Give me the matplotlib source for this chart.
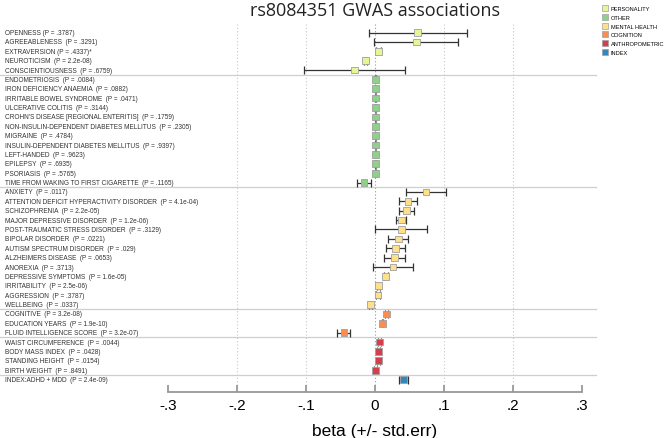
import numpy as np
import matplotlib.pyplot as plt
from matplotlib.lines import Line2D

W, H = 669, 439

labels = [
    "OPENNESS (P = .3787)",
    "AGREEABLENESS  (P = .3291)",
    "EXTRAVERSION (P = .4337)*",
    "NEUROTICISM  (P = 2.2e-08)",
    "CONSCIENTIOUSNESS  (P = .6759)",
    "ENDOMETRIOSIS  (P = .0084)",
    "IRON DEFICIENCY ANAEMIA  (P = .0882)",
    "IRRITABLE BOWEL SYNDROME  (P = .0471)",
    "ULCERATIVE COLITIS  (P = .3144)",
    "CROHN'S DISEASE [REGIONAL ENTERITIS]  (P = .1759)",
    "NON-INSULIN-DEPENDENT DIABETES MELLITUS  (P = .2305)",
    "MIGRAINE  (P = .4784)",
    "INSULIN-DEPENDENT DIABETES MELLITUS  (P = .9397)",
    "LEFT-HANDED  (P = .9623)",
    "EPILEPSY  (P = .6935)",
    "PSORIASIS  (P = .5765)",
    "TIME FROM WAKING TO FIRST CIGARETTE  (P = .1165)",
    "ANXIETY  (P = .0117)",
    "ATTENTION DEFICIT HYPERACTIVITY DISORDER  (P = 4.1e-04)",
    "SCHIZOPHRENIA  (P = 2.2e-05)",
    "MAJOR DEPRESSIVE DISORDER  (P = 1.2e-06)",
    "POST-TRAUMATIC STRESS DISORDER  (P = .3129)",
    "BIPOLAR DISORDER  (P = .0221)",
    "AUTISM SPECTRUM DISORDER  (P = .029)",
    "ALZHEIMERS DISEASE  (P = .0653)",
    "ANOREXIA  (P = .3713)",
    "DEPRESSIVE SYMPTOMS  (P = 1.6e-05)",
    "IRRITABILITY  (P = 2.5e-06)",
    "AGGRESSION  (P = .3787)",
    "WELLBEING  (P = .0337)",
    "COGNITIVE  (P = 3.2e-08)",
    "EDUCATION YEARS  (P = 1.9e-10)",
    "FLUID INTELLIGENCE SCORE  (P = 3.2e-07)",
    "WAIST CIRCUMFERENCE  (P = .0044)",
    "BODY MASS INDEX  (P = .0428)",
    "STANDING HEIGHT  (P = .0154)",
    "BIRTH WEIGHT  (P = .8491)",
    "INDEX:ADHD + MDD  (P = 2.4e-09)",
]

beta = [0.062, 0.060, 0.005, -0.0135, -0.030,
        0.001, 0.001, 0.001, 0.001, 0.001, 0.001, 0.001, 0.001, 0.001, 0.001, 0.001, -0.016,
        0.074, 0.048, 0.046, 0.038, 0.038, 0.034, 0.030, 0.0285, 0.026, 0.0155, 0.0054, 0.0043, -0.0063,
        0.0164, 0.011, -0.045,
        0.0063, 0.0054, 0.0048, 0.001,
        0.041]

se = [0.071, 0.061, 0.004, 0.002, 0.073,
      0.001, 0.001, 0.001, 0.001, 0.001, 0.001, 0.001, 0.001, 0.001, 0.001, 0.001, 0.0106,
      0.029, 0.0135, 0.011, 0.0075, 0.038, 0.0145, 0.014, 0.0155, 0.029, 0.003, 0.002, 0.003, 0.002,
      0.002, 0.001, 0.0094,
      0.002, 0.002, 0.002, 0.002,
      0.0068]

groups = ["PERSONALITY", "OTHER", "MENTAL HEALTH", "COGNITION", "ANTHROPOMETRIC", "INDEX"]
group_sizes = [5, 12, 13, 3, 4, 1]
group_colors = ["#e6f598", "#8fd18b", "#fee08b", "#f98e52", "#d53e4f", "#3288bd"]

ticks = [-0.3, -0.2, -0.1, 0, 0.1, 0.2, 0.3]
tick_labels = ["-.3", "-.2", "-.1", "0", ".1", ".2", ".3"]

# pixel mapping: -0.3 -> 168px, 0.3 -> 582px ; row 0 -> 33.5px, 9.38px per row
px_per_x = 414 / 0.6
xmin = -0.3 - 168 / px_per_x
xmax = -0.3 + (W - 168) / px_per_x
row_px, row0 = 9.38, 33.5
ytop = -row0 / row_px
ybot = (H - row0) / row_px
axis_y = (393 - row0) / row_px
grid_top = (25 - row0) / row_px

fig = plt.figure(figsize=(W / 100, H / 100), dpi=100, facecolor="white")
ax = fig.add_axes([0, 0, 1, 1])
ax.set_xlim(xmin, xmax)
ax.set_ylim(ybot, ytop)

y = np.arange(len(labels))
colors = np.repeat(group_colors, group_sizes)

# dotted grid
for t in ticks[1:-1]:
    ax.vlines(t, grid_top, axis_y, colors="#999999" if t == 0 else "#c8c8c8",
              linestyles=(0, (1, 2)), linewidth=0.8, zorder=1)

# group separators
x_sep_end = -0.3 + (596 - 168) / px_per_x
bounds = np.cumsum(group_sizes)[:-1] - 0.5
for b in bounds:
    ax.plot([xmin, x_sep_end], [b, b], color="#cfcfcf", linewidth=0.9, zorder=1)

ax.errorbar(beta, y, xerr=se, fmt="none", ecolor="#333333", elinewidth=0.9,
            capsize=2.6, capthick=0.9, zorder=2)
ax.scatter(beta, y, marker="s", s=23, c=colors, edgecolors="#a0a0a0",
           linewidths=0.6, zorder=3)

label_x = xmin + 5 / px_per_x
for yi, lab in zip(y, labels):
    ax.text(label_x, yi, lab, ha="left", va="center", fontsize=4.7,
            family="Liberation Sans", color="#333333")

for s in ["left", "top", "right"]:
    ax.spines[s].set_visible(False)
ax.spines["bottom"].set_position(("data", axis_y))
ax.spines["bottom"].set_bounds(-0.3, 0.3)
ax.spines["bottom"].set_color("#999999")
ax.spines["bottom"].set_linewidth(1.3)
ax.set_yticks([])
ax.set_xticks(ticks)
ax.set_xticklabels(tick_labels, family="Liberation Sans", fontsize=11)
ax.tick_params(axis="x", direction="in", length=5, width=1.3, color="#999999", pad=4)

fig.text(375 / W, 1 - 432 / H, "beta (+/- std.err)", ha="center", va="center",
         fontsize=12.5, family="Liberation Sans")
fig.text(375 / W, 1 - 11 / H, "rs8084351 GWAS associations", ha="center", va="center",
         fontsize=13, family="Open Sans", color="#222222")

handles = [Line2D([], [], linestyle="none", marker="s", markersize=4.0,
                  markerfacecolor=c, markeredgecolor="#a0a0a0", markeredgewidth=0.5)
           for c in group_colors]
fig.legend(handles, groups, loc="upper left", bbox_to_anchor=(599 / W, 1 - 3 / H),
           frameon=False, handlelength=0.8, handletextpad=0.6,
           labelspacing=0.66, borderpad=0.2, prop={"family": "Liberation Sans", "size": 4.1})

fig.savefig("out.png", dpi=100, facecolor="white")
